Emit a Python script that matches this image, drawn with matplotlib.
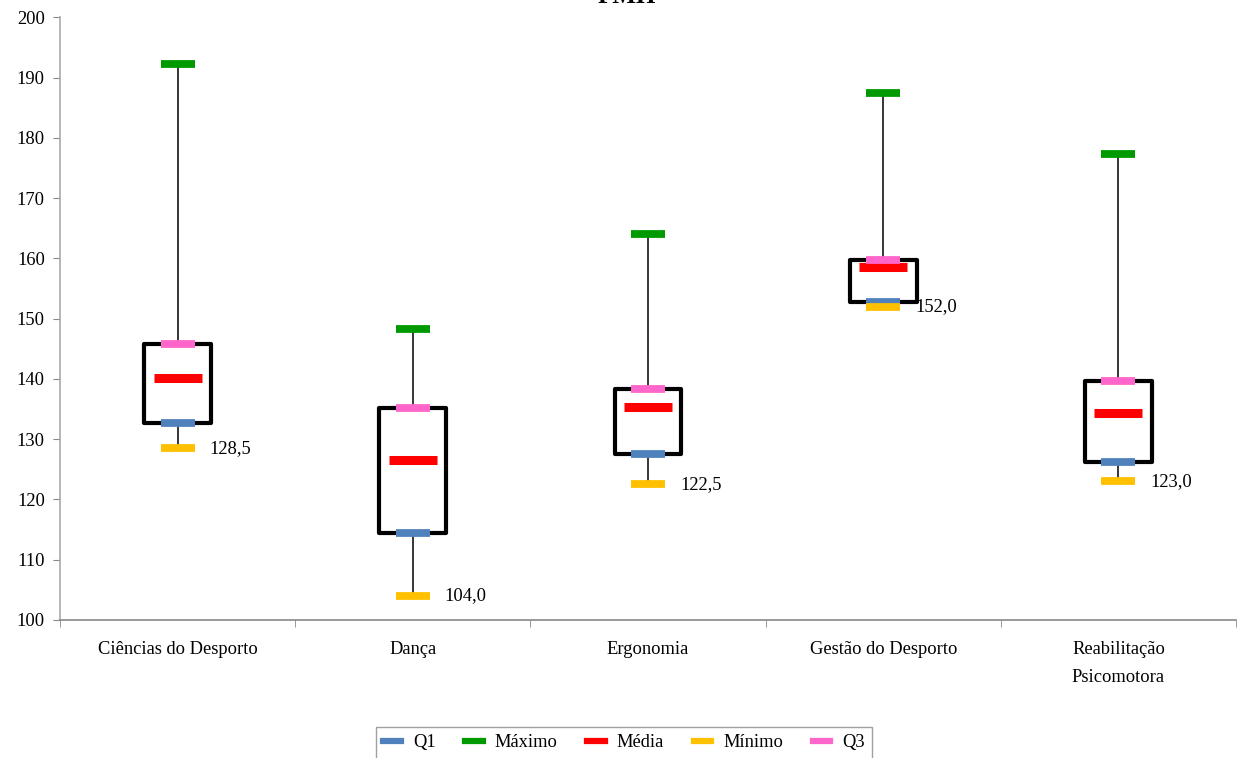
import matplotlib
matplotlib.use("Agg")
import matplotlib.pyplot as plt
from matplotlib.lines import Line2D

plt.rcParams['font.family'] = ['Liberation Serif', 'DejaVu Serif']

categories = ["Ciências do Desporto", "Dança", "Ergonomia", "Gestão do Desporto",
              "Reabilitação\nPsicomotora"]
q1 = [132.7, 114.4, 127.5, 152.8, 126.2]
maximo = [192.2, 148.2, 164.0, 187.4, 177.3]
media = [140.2, 126.5, 135.4, 158.6, 134.4]
minimo = [128.5, 104.0, 122.5, 152.0, 123.0]
q3 = [145.8, 135.1, 138.4, 159.8, 139.6]
min_labels = ["128,5", "104,0", "122,5", "152,0", "123,0"]
yticks = list(range(100, 201, 10))
title = "FMH"

c_q1 = "#4F81BD"
c_max = "#009A00"
c_med = "#FF0000"
c_min = "#FFC000"
c_q3 = "#FF66CC"

FS = 13.3

fig = plt.figure(figsize=(12.37, 7.58), dpi=100)
ax = fig.add_axes([60 / 1237, 1 - 620 / 758, 1176 / 1237, (620 - 17.3) / 758])

x = list(range(len(categories)))

# whiskers
ax.vlines(x, minimo, maximo, color="black", lw=1.1, zorder=1)
# boxes Q1..Q3
heights = [b - a for a, b in zip(q1, q3)]
bars = ax.bar(x, heights, bottom=q1, width=0.284, facecolor="white",
              edgecolor="black", linewidth=3.0, zorder=2)
for b in bars:
    b.set_joinstyle("round")

ms_small = 24
mew_small = 5.6
ax.plot(x, q1, ls="none", marker="_", ms=ms_small, mew=mew_small, color=c_q1, zorder=3)
ax.plot(x, maximo, ls="none", marker="_", ms=ms_small, mew=mew_small, color=c_max, zorder=3)
ax.plot(x, media, ls="none", marker="_", ms=34.5, mew=6.5, color=c_med, zorder=3)
ax.plot(x, minimo, ls="none", marker="_", ms=ms_small, mew=mew_small, color=c_min, zorder=4)
ax.plot(x, q3, ls="none", marker="_", ms=ms_small, mew=mew_small, color=c_q3, zorder=3)

for xi, v, lab in zip(x, minimo, min_labels):
    ax.annotate(lab, (xi, v), xytext=(23, 0), textcoords="offset points",
                ha="left", va="center", fontsize=FS)

ax.set_xlim(-0.5, len(categories) - 0.5)
ax.set_ylim(100, 200)
ax.set_yticks(yticks)
ax.set_xticks(x)
ax.set_xticklabels(categories, fontsize=FS, linespacing=1.85)
ax.set_xticks([i - 0.5 for i in range(len(categories) + 1)], minor=True)
ax.tick_params(axis="x", which="major", length=0, pad=15)
ax.tick_params(axis="x", which="minor", length=5, color="#888888", direction="out")
ax.tick_params(axis="y", length=5, color="#888888", direction="out", labelsize=FS, pad=6)
for s in ["top", "right"]:
    ax.spines[s].set_visible(False)
ax.spines["left"].set_color("#AAAAAA")
ax.spines["bottom"].set_color("#888888")
ax.spines["left"].set_linewidth(1.2)
ax.spines["bottom"].set_linewidth(1.2)

fig.text(627 / 1237, 1 - 3 / 758, title, ha="center", va="baseline",
         fontsize=18, fontweight="bold")

handles = [Line2D([], [], color=c, lw=4.5) for c in [c_q1, c_max, c_med, c_min, c_q3]]
labels = ["Q1", "Máximo", "Média", "Mínimo", "Q3"]
leg = fig.legend(handles, labels, loc="upper center", ncol=5,
                 bbox_to_anchor=(624 / 1237, 1 - 727 / 758), fontsize=FS,
                 frameon=True, fancybox=False, edgecolor="#888888",
                 handlelength=0.95, handletextpad=0.65, columnspacing=1.6,
                 borderpad=0.4, borderaxespad=0)
leg.get_frame().set_linewidth(1.0)

fig.savefig("out.png", dpi=100)
